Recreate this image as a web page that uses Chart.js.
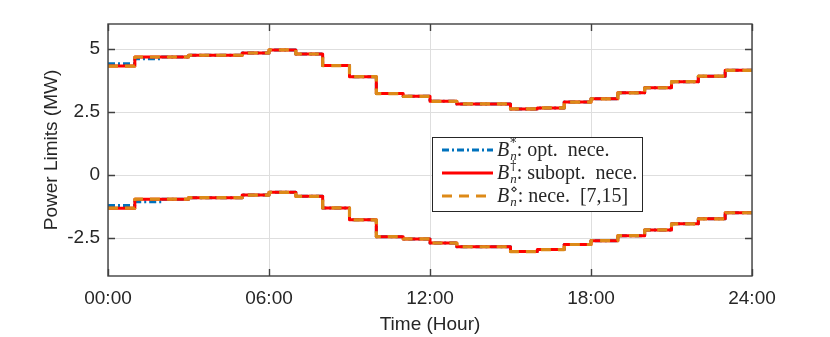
<!DOCTYPE html>
<html>
<head>
<meta charset="utf-8">
<script src="https://cdn.jsdelivr.net/npm/chart.js@4.4.0/dist/chart.umd.min.js"></script>
<style>
  html, body { margin: 0; padding: 0; background: #fff; }
  #wrap { width: 830px; height: 337px; }
</style>
</head>
<body>
<div id="wrap"><canvas id="powerChart" width="830" height="337"></canvas></div>
<script>
// hour marks (each value holds from that hour to the next one)
const hours = [0, 1, 2, 3, 4, 5, 6, 7, 8, 9, 10, 11, 12, 13, 14, 15, 16, 17, 18, 19, 20, 21, 22, 23, 24];
const xTicks = [0, 6, 12, 18, 24];
const yTicks = [-2.5, 0, 2.5, 5];

// B*_n : opt. nece.
const upperOpt = [4.42, 4.62, 4.69, 4.76, 4.76, 4.85, 4.97, 4.81, 4.35, 3.91, 3.24, 3.13, 2.93, 2.83, 2.83, 2.63, 2.67, 2.90, 3.03, 3.27, 3.47, 3.71, 3.93, 4.16];
const lowerOpt = [-1.20, -1.05, -0.95, -0.89, -0.89, -0.79, -0.68, -0.84, -1.30, -1.77, -2.44, -2.53, -2.69, -2.84, -2.84, -3.03, -2.95, -2.75, -2.60, -2.40, -2.17, -1.93, -1.73, -1.49];
// B†_n : subopt. nece.
const upperSub = [4.33, 4.69, 4.69, 4.76, 4.76, 4.85, 4.97, 4.81, 4.35, 3.91, 3.24, 3.13, 2.93, 2.83, 2.83, 2.63, 2.67, 2.90, 3.03, 3.27, 3.47, 3.71, 3.93, 4.16];
const lowerSub = [-1.31, -0.95, -0.95, -0.89, -0.89, -0.79, -0.68, -0.84, -1.30, -1.77, -2.44, -2.53, -2.69, -2.84, -2.84, -3.03, -2.95, -2.75, -2.60, -2.40, -2.17, -1.93, -1.73, -1.49];
// B◇_n : nece. [7,15]
const upperNec = [4.33, 4.69, 4.69, 4.76, 4.76, 4.85, 4.97, 4.81, 4.35, 3.91, 3.24, 3.13, 2.93, 2.83, 2.83, 2.63, 2.67, 2.90, 3.03, 3.27, 3.47, 3.71, 3.93, 4.16];
const lowerNec = [-1.31, -0.95, -0.95, -0.89, -0.89, -0.79, -0.68, -0.84, -1.30, -1.77, -2.44, -2.53, -2.69, -2.84, -2.84, -3.03, -2.95, -2.75, -2.60, -2.40, -2.17, -1.93, -1.73, -1.49];

const BLUE = '#0072bd';
const RED = '#ff0000';
const ORANGE = '#dd8a18';
const BLUE_DASH = [7, 3, 2, 3];
const ORANGE_DASH = [10, 7];

// last interval value is repeated at 24:00 so the final step is drawn
function toPoints(vals) {
  return hours.map((h, i) => ({ x: h, y: vals[Math.min(i, vals.length - 1)] }));
}

function stepSet(vals, color, width, dash, order) {
  return {
    data: toPoints(vals),
    borderColor: color,
    borderWidth: width,
    borderDash: dash,
    borderJoinStyle: 'round',
    stepped: 'before',
    pointRadius: 0,
    fill: false,
    order: order
  };
}

const legendItems = [
  { color: BLUE, width: 3, dash: BLUE_DASH, sup: '*', text: ': opt.  nece.' },
  { color: RED, width: 3, dash: [], sup: '\u2020', text: ': subopt.  nece.' },
  { color: ORANGE, width: 3.2, dash: ORANGE_DASH, sup: '\u22c4', text: ': nece.  [7,15]' }
];

const frameAndLegend = {
  id: 'frameAndLegend',
  afterDraw(chart) {
    const { ctx, chartArea: a, scales: { x, y } } = chart;
    ctx.save();
    // box + inward tick marks
    ctx.strokeStyle = '#404040';
    ctx.lineWidth = 1.4;
    ctx.strokeRect(a.left, a.top, a.right - a.left, a.bottom - a.top);
    ctx.beginPath();
    xTicks.forEach(v => {
      const px = Math.round(x.getPixelForValue(v)) + 0.5;
      ctx.moveTo(px, a.bottom); ctx.lineTo(px, a.bottom - 7);
      ctx.moveTo(px, a.top); ctx.lineTo(px, a.top + 7);
    });
    yTicks.forEach(v => {
      const py = Math.round(y.getPixelForValue(v)) + 0.5;
      ctx.moveTo(a.left, py); ctx.lineTo(a.left + 7, py);
      ctx.moveTo(a.right, py); ctx.lineTo(a.right - 7, py);
    });
    ctx.stroke();

    // legend box
    const bx = 432.5, by = 137.5, bw = 210, bh = 74;
    ctx.fillStyle = '#fff';
    ctx.fillRect(bx, by, bw, bh);
    ctx.strokeStyle = '#262626';
    ctx.lineWidth = 1;
    ctx.strokeRect(bx, by, bw, bh);

    legendItems.forEach((it, i) => {
      const ry = 150 + i * 23;
      ctx.beginPath();
      ctx.strokeStyle = it.color;
      ctx.lineWidth = it.width;
      ctx.setLineDash(it.dash);
      ctx.moveTo(442, ry);
      ctx.lineTo(493, ry);
      ctx.stroke();
      ctx.setLineDash([]);

      ctx.fillStyle = '#262626';
      ctx.textBaseline = 'alphabetic';
      let tx = 497;
      const base = ry + 6;
      ctx.font = 'italic 20px "Liberation Serif", "Times New Roman", serif';
      ctx.fillText('B', tx, base);
      tx += ctx.measureText('B').width + 1;
      ctx.font = 'italic 13px "Liberation Serif", "Times New Roman", serif';
      ctx.fillText('n', tx, base + 4);
      const wn = ctx.measureText('n').width;
      ctx.font = '12px "DejaVu Serif", "Liberation Serif", serif';
      ctx.fillText(it.sup, tx, base - 9);
      const ws = ctx.measureText(it.sup).width;
      tx += Math.max(wn, ws);
      ctx.font = '20px "Liberation Serif", "Times New Roman", serif';
      ctx.fillText(it.text, tx, base);
    });
    ctx.restore();
  }
};

Chart.defaults.font.family = '"Liberation Sans", Arial, Helvetica, sans-serif';
Chart.defaults.font.size = 19;
Chart.defaults.color = '#262626';

new Chart(document.getElementById('powerChart'), {
  type: 'line',
  data: {
    datasets: [
      stepSet(upperOpt, BLUE, 3, BLUE_DASH, 3),
      stepSet(lowerOpt, BLUE, 3, BLUE_DASH, 3),
      stepSet(upperSub, RED, 3, [], 2),
      stepSet(lowerSub, RED, 3, [], 2),
      stepSet(upperNec, ORANGE, 3.2, ORANGE_DASH, 1),
      stepSet(lowerNec, ORANGE, 3.2, ORANGE_DASH, 1)
    ]
  },
  options: {
    responsive: false,
    animation: false,
    layout: { padding: { left: 0, right: 78, top: 24, bottom: 0 } },
    plugins: { legend: { display: false }, tooltip: { enabled: false } },
    scales: {
      x: {
        type: 'linear',
        min: 0,
        max: 24,
        afterBuildTicks: s => { s.ticks = xTicks.map(v => ({ value: v })); },
        afterFit: s => { s.height = 61; },
        ticks: {
          padding: 11,
          maxRotation: 0,
          callback: v => String(v).padStart(2, '0') + ':00'
        },
        grid: { color: '#dedede', drawTicks: false },
        border: { display: false },
        title: { display: true, text: 'Time (Hour)', padding: { top: 0, bottom: 1 } }
      },
      y: {
        min: -4,
        max: 6,
        afterBuildTicks: s => { s.ticks = yTicks.map(v => ({ value: v })); },
        afterFit: s => { s.width = 108; },
        ticks: { padding: 8, callback: v => String(v) },
        grid: { color: '#dedede', drawTicks: false },
        border: { display: false },
        title: { display: true, text: 'Power Limits (MW)', padding: { top: 40, bottom: 0 } }
      }
    }
  },
  plugins: [frameAndLegend]
});
</script>
</body>
</html>
